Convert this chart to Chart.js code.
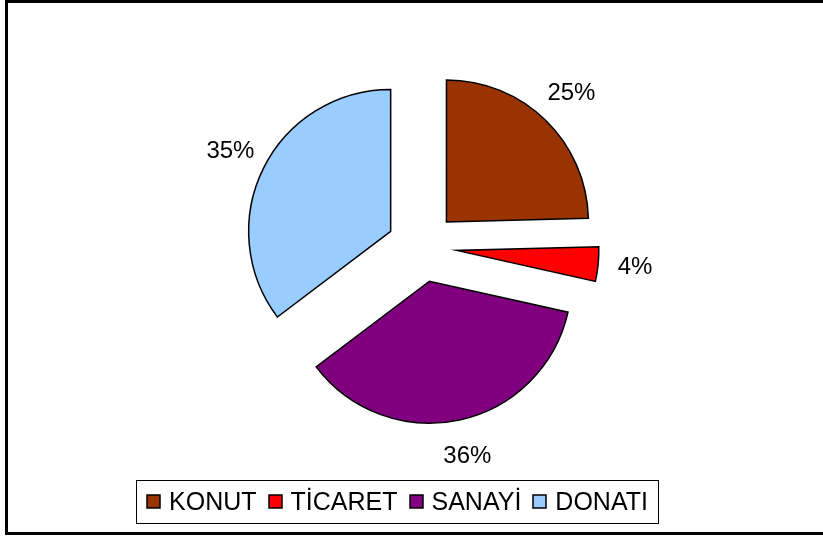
<!DOCTYPE html>
<html>
<head>
<meta charset="utf-8">
<script src="https://cdn.jsdelivr.net/npm/chart.js@4"></script>
<style>
  html, body { margin: 0; padding: 0; background: #fff; }
  canvas { display: block; }
</style>
</head>
<body>
<canvas id="pieChart" width="823" height="540"></canvas>
<script>
const labels = ['KONUT', 'TİCARET', 'SANAYİ', 'DONATI'];
const shares = [24.6, 3.9, 36.2, 35.3];
const colors = ['#993300', '#FF0000', '#800080', '#99CCFF'];

const EXPLODE = 35;
const LABEL_DIST = 214;
const FONT = '24px "Liberation Sans", Arial, sans-serif';
const LEGEND_FONT = '25px "Liberation Sans", Arial, sans-serif';

// draw each slice pulled out from the centre (Excel style explosion)
const explodePlugin = {
  id: 'explode',
  beforeDatasetDraw(chart, args) {
    const ctx = chart.ctx;
    args.meta.data.forEach(arc => {
      const mid = (arc.startAngle + arc.endAngle) / 2;
      ctx.save();
      ctx.translate(Math.cos(mid) * EXPLODE, Math.sin(mid) * EXPLODE);
      arc.draw(ctx);
      ctx.restore();
    });
    return false;
  }
};

const percentLabels = {
  id: 'percentLabels',
  afterDatasetsDraw(chart) {
    const ctx = chart.ctx;
    const values = chart.data.datasets[0].data;
    const total = values.reduce((a, b) => a + b, 0);
    ctx.save();
    ctx.font = FONT;
    ctx.fillStyle = '#000';
    ctx.textAlign = 'center';
    ctx.textBaseline = 'middle';
    chart.getDatasetMeta(0).data.forEach((arc, i) => {
      const mid = (arc.startAngle + arc.endAngle) / 2;
      const x = arc.x + Math.cos(mid) * LABEL_DIST;
      const y = arc.y + Math.sin(mid) * LABEL_DIST;
      ctx.fillText(Math.round(values[i] / total * 100) + '%', x, y);
    });
    ctx.restore();
  }
};

// boxed legend at the bottom + outer frame
const frameAndLegend = {
  id: 'frameAndLegend',
  afterDraw(chart) {
    const ctx = chart.ctx;
    const ds = chart.data.datasets[0];
    ctx.save();
    ctx.strokeStyle = '#000';
    ctx.lineWidth = 3;
    ctx.strokeRect(6.5, 1.5, 900, 532);

    ctx.font = LEGEND_FONT;
    const box = 13, gap = 9, itemGap = 12;
    const widths = chart.data.labels.map(l => ctx.measureText(l).width);
    const total = widths.reduce((a, w) => a + box + gap + w, 0) + itemGap * (widths.length - 1);
    let x = 397.5 - total / 2;
    const cy = 502;

    ctx.lineWidth = 1;
    ctx.strokeStyle = '#000';
    ctx.strokeRect(Math.round(x - 11) + 0.5, 480.5, Math.round(total + 21), 43);

    ctx.textBaseline = 'middle';
    ctx.textAlign = 'left';
    chart.data.labels.forEach((l, i) => {
      ctx.fillStyle = ds.backgroundColor[i];
      ctx.fillRect(Math.round(x), cy - 7, box, box);
      ctx.lineWidth = 1.5;
      ctx.strokeRect(Math.round(x), cy - 7, box, box);
      ctx.fillStyle = '#000';
      ctx.fillText(l, x + box + gap, cy + 1);
      x += box + gap + widths[i] + itemGap;
    });
    ctx.restore();
  }
};

const ctx = document.getElementById('pieChart').getContext('2d');

new Chart(ctx, {
  type: 'pie',
  data: {
    labels: labels,
    datasets: [{
      data: shares,
      backgroundColor: colors,
      borderColor: '#000',
      borderWidth: 1.5,
      borderJoinStyle: 'miter',
      radius: 142
    }]
  },
  options: {
    responsive: false,
    animation: false,
    events: [],
    layout: { padding: { left: 42, right: 21, top: 20, bottom: 66 } },
    plugins: {
      legend: { display: false },
      tooltip: { enabled: false }
    }
  },
  plugins: [explodePlugin, percentLabels, frameAndLegend]
});
</script>
</body>
</html>
